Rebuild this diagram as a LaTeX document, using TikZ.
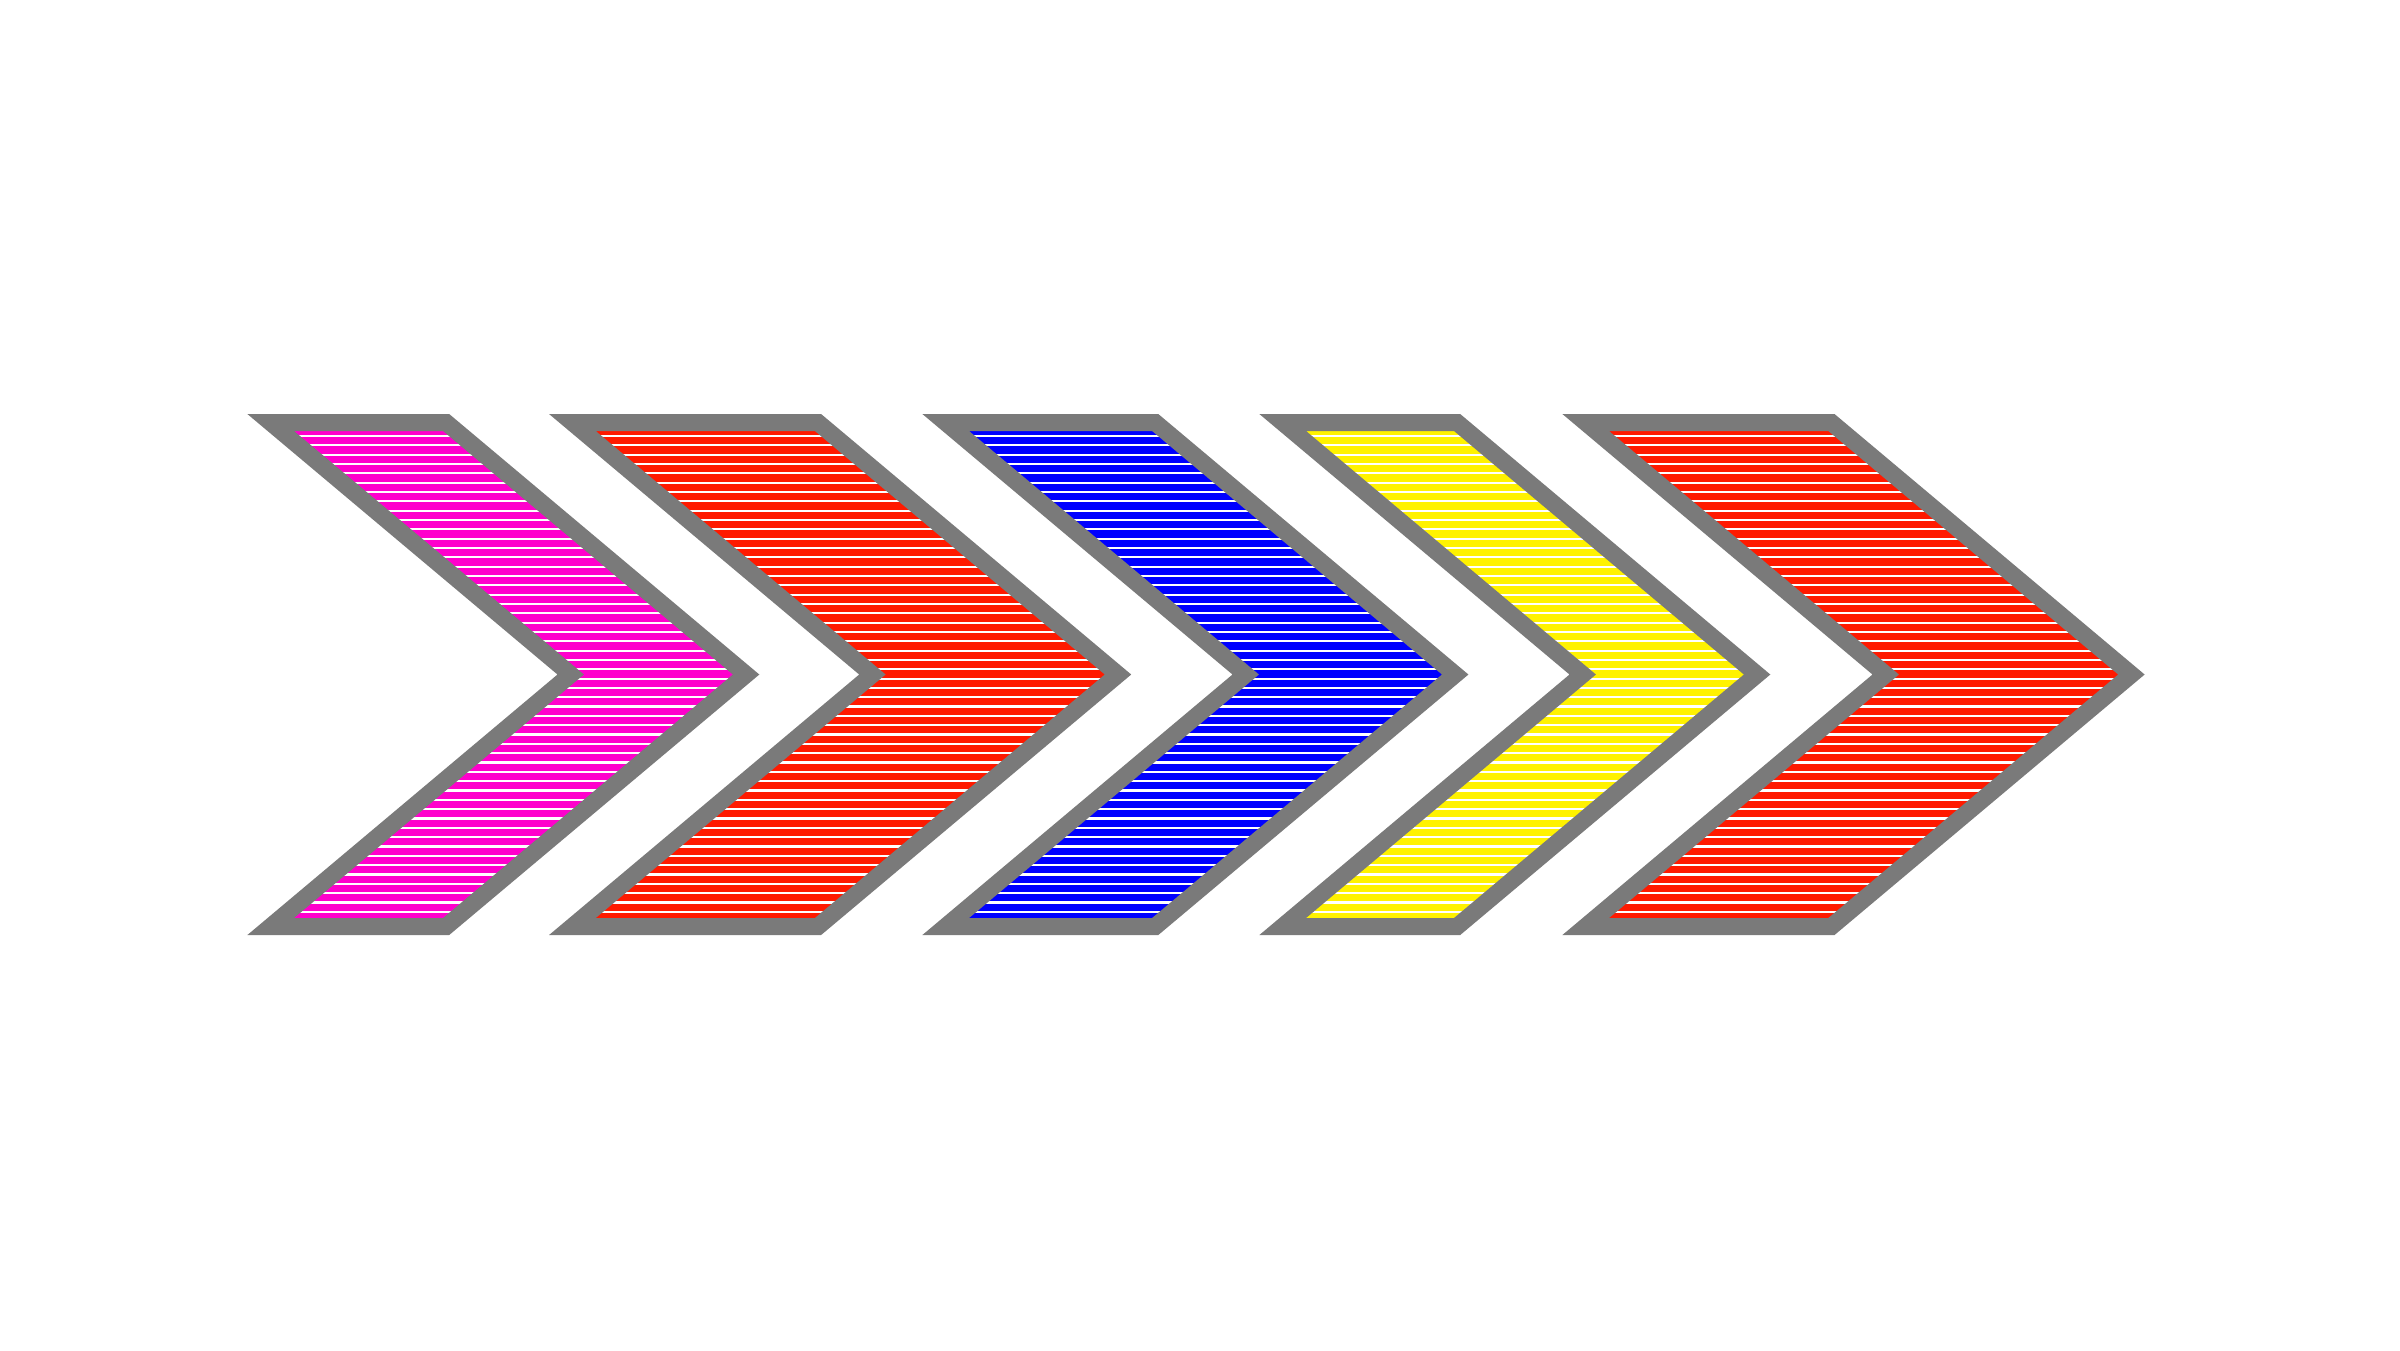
\documentclass[tikz,border=0pt]{standalone}
\definecolor{chevgray}{RGB}{122,122,122}
\definecolor{chevpink}{RGB}{255,0,204}
\definecolor{chevred}{RGB}{255,26,0}
\definecolor{chevblue}{RGB}{0,0,255}
\definecolor{chevyellow}{RGB}{255,242,0}
\tikzset{
  chevframe/.style={chevgray, line width=0.17cm, line join=miter},
  chevstripe/.style={white, line width=0.022cm}
}
\begin{document}
\begin{tikzpicture}[x=0.01cm,y=-0.01cm]
\useasboundingbox (0,0) rectangle (2400,1350);
\foreach \l/\r/\c in {270.7/446.1/chevpink, 572.4/818/chevred, 945.7/1155.2/chevblue, 1282.7/1457.1/chevyellow, 1585.7/1831.4/chevred}
{
  \coordinate (tl) at (\l,422.5);
  \coordinate (tr) at (\r,422.5);
  \coordinate (tip) at (\r+300,674.5);
  \coordinate (br) at (\r,926.5);
  \coordinate (bl) at (\l,926.5);
  \coordinate (notch) at (\l+300,674.5);
  \fill[\c] (tl) -- (tr) -- (tip) -- (br) -- (bl) -- (notch) -- cycle;
  \begin{scope}
    \clip (tl) -- (tr) -- (tip) -- (br) -- (bl) -- (notch) -- cycle;
    \foreach \y in {436,445.33,...,925}
      \draw[chevstripe] (\l-10,\y) -- (\r+310,\y);
  \end{scope}
  \draw[chevframe] (tl) -- (tr) -- (tip) -- (br) -- (bl) -- (notch) -- cycle;
}
\end{tikzpicture}
\end{document}
